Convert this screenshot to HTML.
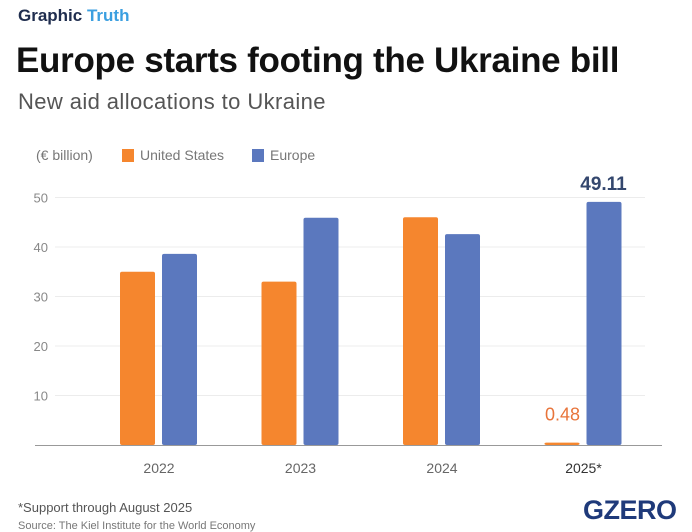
<!DOCTYPE html>
<html><head><meta charset="utf-8"><style>
body{margin:0;background:#fff;font-family:"Liberation Sans",sans-serif;}
#wrap{position:relative;width:692px;height:532px;overflow:hidden;background:#fff}
.t{position:absolute;white-space:nowrap}
</style></head><body>
<div id="wrap">
<div class="t" style="left:18px;top:6px;font-size:17px;font-weight:bold;color:#1f2d4e">Graphic <span style="color:#3b9fe0">Truth</span></div>
<div class="t" style="left:16px;top:41px;font-size:35px;font-weight:bold;color:#111;letter-spacing:-0.3px">Europe starts footing the Ukraine bill</div>
<div class="t" style="left:18px;top:89px;font-size:22px;color:#555;letter-spacing:0.4px">New aid allocations to Ukraine</div>
<div class="t" style="left:36px;top:147px;font-size:14px;color:#777">(€ billion)</div>
<div class="t" style="left:122px;top:147px;font-size:14px;color:#777"><span style="display:inline-block;width:12px;height:13px;background:#f5862e;vertical-align:-2px;margin-right:6px"></span>United States</div>
<div class="t" style="left:252px;top:147px;font-size:14px;color:#777"><span style="display:inline-block;width:12px;height:13px;background:#5b78be;vertical-align:-2px;margin-right:6px"></span>Europe</div>
<svg id="chart" width="692" height="532" style="position:absolute;left:0;top:0"></svg>
<div class="t" style="left:18px;top:500px;font-size:13px;color:#555">*Support through August 2025</div>
<div class="t" style="left:18px;top:520px;font-size:11px;color:#777">Source: The Kiel Institute for the World Economy</div>
<div class="t" style="left:583px;top:495px;font-size:27px;font-weight:bold;color:#1f3a7a;letter-spacing:-0.5px">GZERO</div>
</div>
<script>
const categories=["2022","2023","2024","2025*"];
const usValues=[35,33,46,0.48];
const euValues=[38.6,45.9,42.6,49.11];
const ticks=[10,20,30,40,50];
const ns="http://www.w3.org/2000/svg";
const svg=document.getElementById('chart');
const y0=445, pxPer=4.95;
const y=v=>y0-v*pxPer;
const xc=i=>159+i*141.5;
function mk(tag,attrs){const e=document.createElementNS(ns,tag);for(const k in attrs)e.setAttribute(k,attrs[k]);svg.appendChild(e);return e;}
ticks.forEach(t=>{
  const l=mk('line',{x1:55,x2:645,y1:y(t),y2:y(t),stroke:'#ececec','stroke-width':1});
  
  
  const tx=mk('text',{x:48,y:y(t)+5,'text-anchor':'end','font-size':13,fill:'#888','font-family':'Liberation Sans, sans-serif'});
  tx.textContent=t;
  
  
});
categories.forEach((c,i)=>{
  const bu=mk('rect',{x:xc(i)-39,y:y(usValues[i]),width:35,height:usValues[i]*pxPer,fill:'#f5862e',rx:2});
  
  
  const be=mk('rect',{x:xc(i)+3,y:y(euValues[i]),width:35,height:euValues[i]*pxPer,fill:'#5b78be',rx:2});
  
  
  const tx=mk('text',{x:xc(i),y:473,'text-anchor':'middle','font-size':14,fill:i==3?'#333':'#666','font-family':'Liberation Sans, sans-serif'});
  tx.textContent=c;
  
  
});
const ax=mk('line',{x1:35,x2:662,y1:y0+0.5,y2:y0+0.5,stroke:'#999','stroke-width':1});


const last=categories.length-1;
const lu=mk('text',{x:xc(last)-21,y:y(usValues[last])-22,'text-anchor':'middle','font-size':18,fill:'#e8743a','font-family':'Liberation Sans, sans-serif'});
lu.textContent=usValues[last];


const le=mk('text',{x:xc(last)+20,y:y(euValues[last])-12,'text-anchor':'middle','font-size':19,'font-weight':'bold',fill:'#34476e','font-family':'Liberation Sans, sans-serif'});
le.textContent=euValues[last];


</script>
</body></html>
